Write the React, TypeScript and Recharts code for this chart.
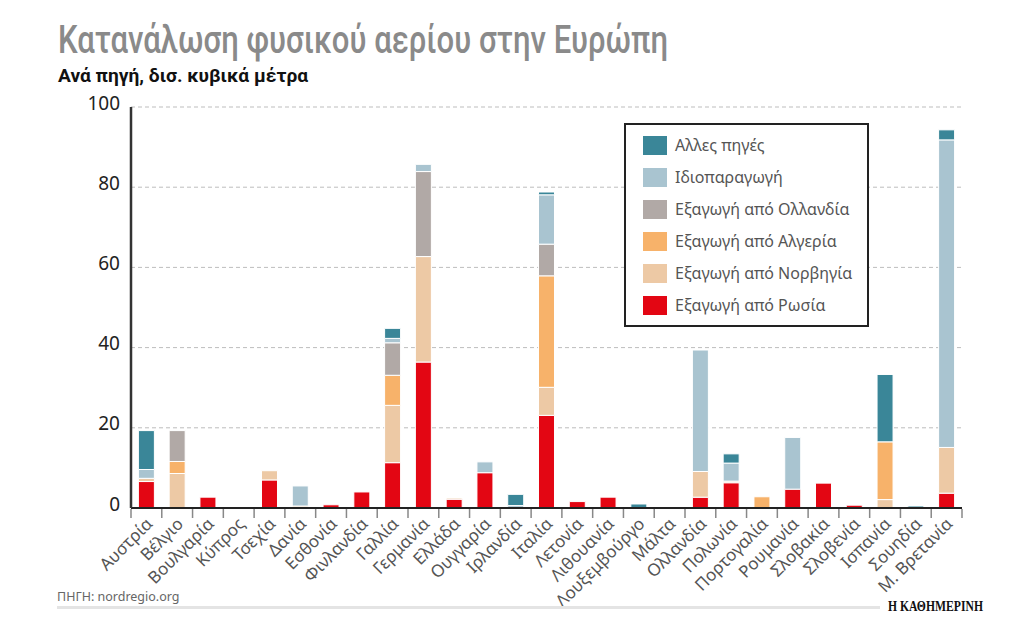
import React from 'react';
import { BarChart, Bar, XAxis, YAxis, CartesianGrid } from 'recharts';

const countries = [
  'Αυστρία', 'Βέλγιο', 'Βουλγαρία', 'Κύπρος', 'Τσεχία', 'Δανία', 'Εσθονία', 'Φινλανδία',
  'Γαλλία', 'Γερμανία', 'Ελλάδα', 'Ουγγαρία', 'Ιρλανδία', 'Ιταλία', 'Λετονία', 'Λιθουανία',
  'Λουξεμβούργο', 'Μάλτα', 'Ολλανδία', 'Πολωνία', 'Πορτογαλία', 'Ρουμανία', 'Σλοβακία',
  'Σλοβενία', 'Ισπανία', 'Σουηδία', 'Μ. Βρετανία',
];

const russia = [6.6, 0, 2.7, 0, 7.0, 0, 0.8, 4.0, 11.3, 36.4, 2.2, 8.8, 0, 23.1, 1.6, 2.7, 0, 0, 2.7, 6.3, 0, 4.7, 6.2, 0.7, 0, 0, 3.7];
const norway = [0.8, 8.6, 0, 0, 2.3, 0.5, 0, 0, 14.3, 26.3, 0.3, 0, 0, 7.0, 0, 0, 0, 0, 6.4, 0.4, 0, 0, 0, 0, 2.1, 0, 11.4];
const algeria = [0, 3.0, 0, 0, 0, 0, 0, 0, 7.5, 0, 0, 0, 0, 27.8, 0, 0, 0, 0, 0, 0, 2.8, 0, 0, 0, 14.4, 0, 0];
const netherlands = [0, 7.7, 0, 0, 0, 0, 0, 0, 8.1, 21.2, 0, 0, 0, 7.9, 0, 0, 0, 0, 0, 0, 0, 0, 0, 0, 0, 0, 0];
const ownProduction = [2.2, 0, 0, 0, 0, 5.0, 0, 0, 1.1, 1.8, 0, 2.7, 0.6, 12.3, 0, 0, 0, 0, 30.3, 4.5, 0, 12.9, 0, 0, 0, 0, 76.7];
const otherSources = [9.7, 0, 0, 0, 0, 0, 0, 0, 2.5, 0, 0, 0, 2.8, 0.7, 0, 0, 1.0, 0, 0, 2.3, 0, 0, 0, 0, 16.8, 0.5, 2.5];

const yTicks = [0, 20, 40, 60, 80, 100];

const series = [
  { key: 'russia', name: 'Εξαγωγή από Ρωσία', color: '#e30613', values: russia },
  { key: 'norway', name: 'Εξαγωγή από Νορβηγία', color: '#edc9a5', values: norway },
  { key: 'algeria', name: 'Εξαγωγή από Αλγερία', color: '#f7b26a', values: algeria },
  { key: 'netherlands', name: 'Εξαγωγή από Ολλανδία', color: '#b1a9a6', values: netherlands },
  { key: 'own', name: 'Ιδιοπαραγωγή', color: '#a9c4d0', values: ownProduction },
  { key: 'others', name: 'Αλλες πηγές', color: '#3a8698', values: otherSources },
];

const data = countries.map((c, i) => {
  const row: Record<string, string | number> = { country: c };
  series.forEach((s) => {
    row[s.key] = s.values[i];
  });
  return row;
});

const W = 1024;
const H = 622;
const M = { top: 107, right: 62, left: 71, bottom: 14 };
const YW = 60;
const PLOT_LEFT = M.left + YW;
const PLOT_W = W - PLOT_LEFT - M.right;
const BAND = PLOT_W / countries.length;

const XTick = (props: any) => {
  const { x, y, payload, index } = props;
  const half = BAND / 2;
  const last = index === countries.length - 1;
  return (
    <g>
      <line x1={x - half} y1={y + 1} x2={x - half} y2={y + 10} stroke="#888" strokeWidth={1.5} />
      {last && <line x1={x + half} y1={y + 1} x2={x + half} y2={y + 10} stroke="#888" strokeWidth={1.5} />}
      <text
        transform={`translate(${x + 7},${y + 17}) rotate(-45)`}
        textAnchor="end"
        fontSize={17}
        fill="#555"
        fontFamily="'Noto Sans', sans-serif"
      >
        {payload.value}
      </text>
    </g>
  );
};

const YTick = (props: any) => {
  const { y, payload } = props;
  return (
    <text
      x={PLOT_LEFT - 11}
      y={y - 4}
      dy="0.35em"
      textAnchor="end"
      fontSize={19}
      fill="#222"
      fontFamily="'Noto Sans', sans-serif"
    >
      {payload.value}
    </text>
  );
};

const legendItems = [...series].reverse();

export default function App() {
  return (
    <div style={{ position: 'absolute', left: 0, top: 0, width: W, height: H, background: '#fff' }}>
      <BarChart width={W} height={H} data={data} margin={M} barCategoryGap="24%">
        <CartesianGrid vertical={false} strokeDasharray="4 3" stroke="#bdbdbd" />
        <XAxis
          dataKey="country"
          interval={0}
          height={100}
          tickLine={false}
          tickSize={0}
          tickMargin={0}
          axisLine={{ stroke: '#222', strokeWidth: 2 }}
          tick={<XTick />}
        />
        <YAxis
          width={YW}
          domain={[0, 100]}
          ticks={yTicks}
          tickLine={false}
          axisLine={{ stroke: '#333', strokeWidth: 2.5 }}
          tick={<YTick />}
        />
        {series.map((s) => (
          <Bar
            key={s.key}
            dataKey={s.key}
            name={s.name}
            stackId="a"
            fill={s.color}
            stroke="#fff"
            strokeWidth={1}
            isAnimationActive={false}
          />
        ))}
      </BarChart>
      <svg
        width={W}
        height={H}
        style={{ position: 'absolute', left: 0, top: 0, pointerEvents: 'none' }}
      >
        <text
          x={58}
          y={53}
          fontSize={38}
          fontWeight={500}
          fill="#8a8a8a"
          fontFamily="Roboto, sans-serif"
          textLength={610}
          lengthAdjust="spacingAndGlyphs"
        >
          Κατανάλωση φυσικού αερίου στην Ευρώπη
        </text>
        <text
          x={58}
          y={82}
          fontSize={19}
          fontWeight={700}
          fill="#111"
          fontFamily="Roboto, sans-serif"
          textLength={250}
          lengthAdjust="spacingAndGlyphs"
        >
          Ανά πηγή, δισ. κυβικά μέτρα
        </text>
        <rect x={625} y={124} width={243} height={202} fill="#fff" stroke="#222" strokeWidth={2} />
        {legendItems.map((s, i) => (
          <g key={s.key}>
            <rect x={643} y={136 + i * 32} width={24} height={19} fill={s.color} />
            <text
              x={675}
              y={151 + i * 32}
              fontSize={16}
              fill="#555"
              fontFamily="'Noto Sans', sans-serif"
            >
              {s.name}
            </text>
          </g>
        ))}
        <text x={57} y={601} fontSize={12.5} fill="#666" fontFamily="'Noto Sans', sans-serif">
          ΠΗΓΗ: nordregio.org
        </text>
        <rect x={57} y={606} width={823} height={3} fill="#e4e4e4" />
        <text
          x={888}
          y={611}
          fontSize={14}
          fontWeight={700}
          fill="#111"
          fontFamily="'Liberation Serif', 'DejaVu Serif', serif"
          textLength={95}
          lengthAdjust="spacingAndGlyphs"
        >
          Η ΚΑΘΗΜΕΡΙΝΗ
        </text>
      </svg>
    </div>
  );
}
